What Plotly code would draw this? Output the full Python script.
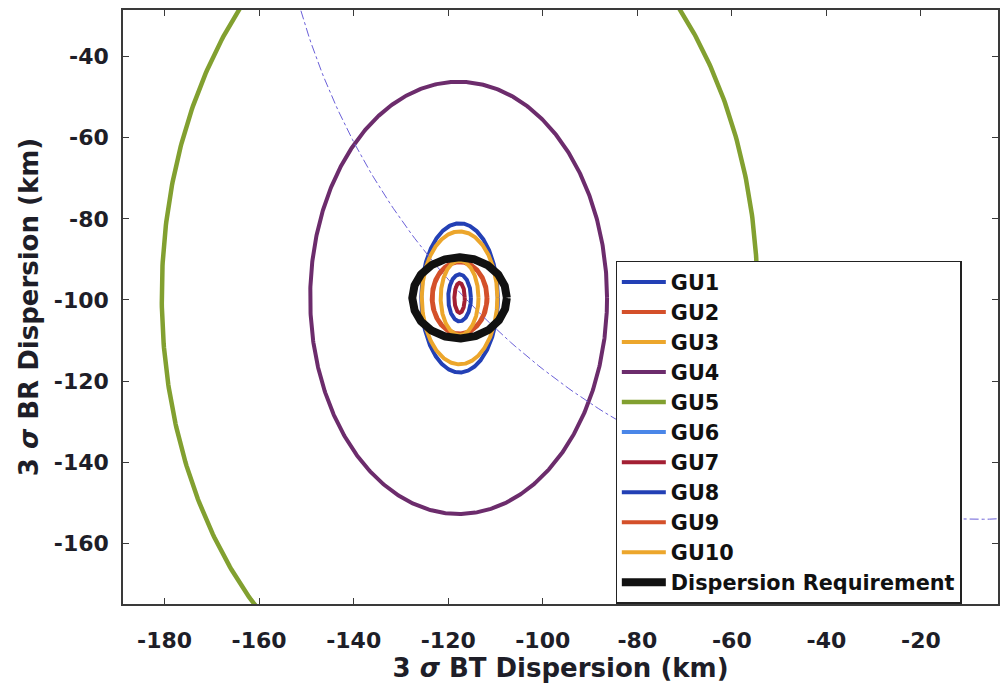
import numpy as np
import plotly.graph_objects as go

# ---- data (km) ----
names = ["GU1", "GU2", "GU3", "GU4", "GU5", "GU6", "GU7", "GU8", "GU9", "GU10"]
center_bt = [-117.6, -117.6, -117.6, -117.8, -117.6, -8.1, -117.6, -117.6, -117.6, -117.6]
center_br = [-99.5, -99.5, -99.5, -99.5, -99.0, 19.9, -99.5, -99.5, -99.5, -99.5]
semi_bt = [8.1, 5.9, 8.0, 31.4, 63.0, 149.0, 1.1, 2.4, 5.7, 4.0]
semi_br = [18.4, 9.0, 16.4, 53.3, 105.0, 174.0, 3.7, 5.8, 8.8, 9.2]
colors = ["#2340b5", "#d4502a", "#eca62c", "#6c2c6c", "#82a030", "#4a86e8",
          "#a31f33", "#2340b5", "#d4502a", "#eca62c"]
widths = [4, 4, 4, 4, 4.5, 1, 4, 4, 4, 4]

req_name = "Dispersion Requirement"
req_center = (-117.6, -99.5)
req_radius = 10.0

x_ticks = [-180, -160, -140, -120, -100, -80, -60, -40, -20]
x_ticktext = ["-180", "-160", "-140", "-120", "-100", "-80", "-60", "-40", "-20"]
y_ticks = [-160, -140, -120, -100, -80, -60, -40]
y_ticktext = ["-160", "-140", "-120", "-100", "-80", "-60", "-40"]

t = np.linspace(0, 2 * np.pi, 721)
fig = go.Figure()

FONT = "DejaVu Sans"

for i, n in enumerate(names):
    x = center_bt[i] + semi_bt[i] * np.cos(t)
    y = center_br[i] + semi_br[i] * np.sin(t)
    if n == "GU6":
        fig.add_trace(go.Scatter(x=x, y=y, mode="lines", showlegend=False,
                                 line=dict(color="#6a5fd8", width=1, dash="dashdot"),
                                 hoverinfo="skip"))
        fig.add_trace(go.Scatter(x=[None], y=[None], mode="lines", name=n,
                                 line=dict(color=colors[i], width=4)))
    else:
        fig.add_trace(go.Scatter(x=x, y=y, mode="lines", name=n,
                                 line=dict(color=colors[i], width=widths[i])))

fig.add_trace(go.Scatter(x=req_center[0] + req_radius * np.cos(t),
                         y=req_center[1] + req_radius * np.sin(t),
                         mode="lines", name=req_name,
                         line=dict(color="#111111", width=8)))

# dummy trace for mirrored right ticks
fig.add_trace(go.Scatter(x=[], y=[], xaxis="x", yaxis="y2", showlegend=False))

axis_common = dict(
    showgrid=False, zeroline=False, showline=True, linecolor="#3a3a3a", linewidth=1.5,
    ticks="inside", ticklen=6, tickcolor="#3a3a3a", tickwidth=1.2,
    tickfont=dict(family=FONT, size=22, color="#1e1e28", weight="bold"),
)

fig.update_layout(
    width=1000, height=689,
    margin=dict(l=123, r=0, t=10, b=85),
    paper_bgcolor="white", plot_bgcolor="white",
    xaxis=dict(range=[-188.8, -3.7], tickvals=x_ticks, ticktext=x_ticktext, mirror="ticks",
               ticklabelstandoff=16,
               title=dict(text="3 <i>σ</i> BT Dispersion (km)", standoff=4,
                          font=dict(family=FONT, size=26, color="#1e1e28", weight="bold")),
               **axis_common),
    yaxis=dict(range=[-175.0, -28.5], tickvals=y_ticks, ticktext=y_ticktext, mirror="ticks",
               ticklabelstandoff=8,
               title=dict(text="3 <i>σ</i> BR Dispersion (km)", standoff=8,
                          font=dict(family=FONT, size=26, color="#1e1e28", weight="bold")),
               **axis_common),
    yaxis2=dict(range=[-175.0, -28.5], overlaying="y", side="right", tickvals=y_ticks,
                showticklabels=False, showgrid=False, zeroline=False, ticks="inside",
                ticklen=6, tickcolor="#3a3a3a", showline=False),
    legend=dict(x=0.563, y=0.578, xanchor="left", yanchor="top",
                bgcolor="white", bordercolor="#222", borderwidth=1.2,
                itemwidth=44, tracegroupgap=0,
                font=dict(family=FONT, size=20.8, color="#111", weight="bold")),
)

fig.write_html("out.html")
